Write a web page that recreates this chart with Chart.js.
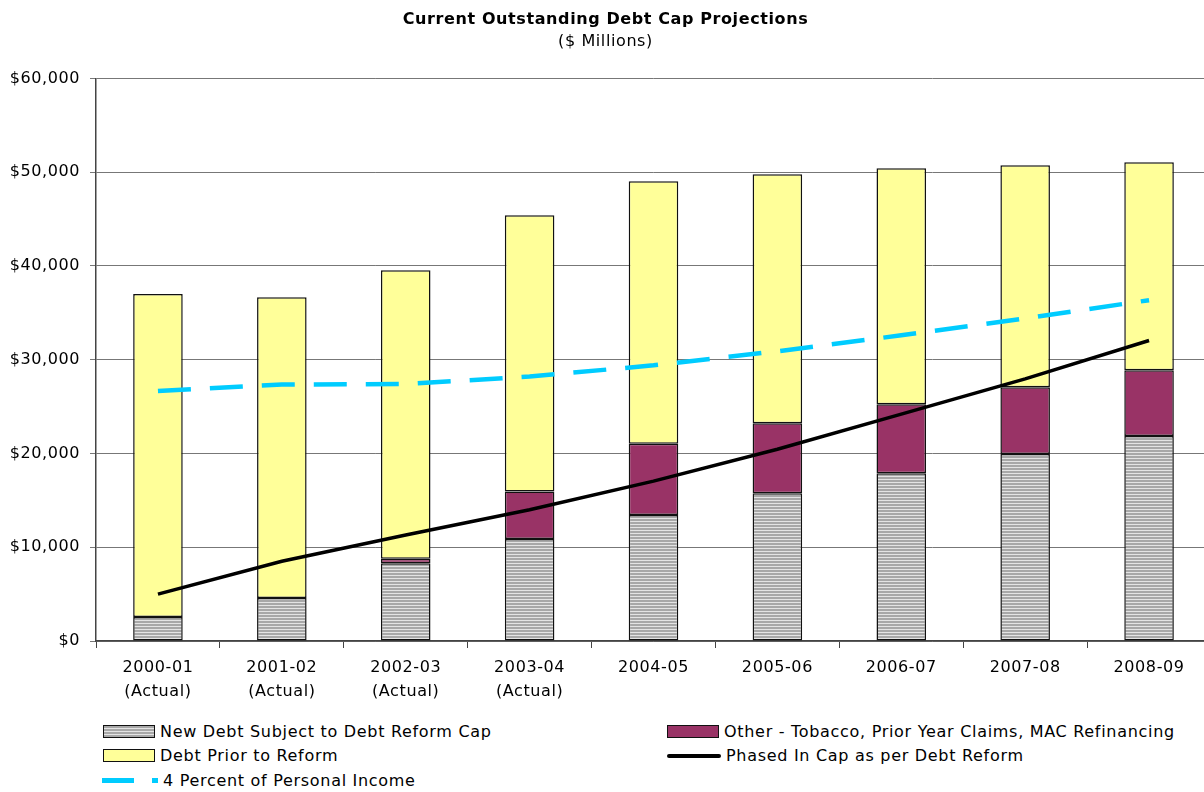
<!DOCTYPE html>
<html>
<head>
<meta charset="utf-8">
<script src="https://cdn.jsdelivr.net/npm/chart.js@4/dist/chart.umd.min.js"></script>
<style>
	body { margin: 0; background: #fff; font-family: "DejaVu Sans", sans-serif; overflow: hidden; }
	#wrap { position: relative; width: 1204px; height: 792px; overflow: hidden; }
	#chart { position: absolute; left: 0; top: 0; }
	.lg { position: absolute; font-size: 16px; letter-spacing: 0.7px; color: #000; white-space: nowrap; line-height: 18px; }
	.lg i { display: inline-block; vertical-align: middle; margin-right: 5px; box-sizing: border-box; position: relative; top: -1px; }
	.box { width: 52px; height: 13px; border: 1.5px solid #111; }
	.gray { background: repeating-linear-gradient(to bottom, #a8a8a8 0 2px, #e4e4e4 2px 3px); }
	.yellow { background: #ffff99; }
	.purple { background: #993366; }
	.solid { width: 54px; height: 4px; background: #000; border-radius: 2px; }
	.dash { width: 56px; height: 4.5px; background: linear-gradient(to right, #00ccff 0 32px, transparent 32px 50px, #00ccff 50px 56px); }
</style>
</head>
<body>
<div id="wrap">
	<canvas id="chart" width="1212" height="720"></canvas>
	<div class="lg" style="left:103px; top:723px;"><i class="box gray"></i>New Debt Subject to Debt Reform Cap</div>
	<div class="lg" style="left:667px; top:723px;"><i class="box purple"></i>Other - Tobacco, Prior Year Claims, MAC Refinancing</div>
	<div class="lg" style="left:103px; top:747px;"><i class="box yellow"></i>Debt Prior to Reform</div>
	<div class="lg" style="left:667px; top:747px;"><i class="solid"></i>Phased In Cap as per Debt Reform</div>
	<div class="lg" style="left:102px; top:772px;"><i class="dash"></i>4 Percent of Personal Income</div>
</div>
<script>
var years = [["2000-01", "(Actual)"], ["2001-02", "(Actual)"], ["2002-03", "(Actual)"], ["2003-04", "(Actual)"],
	"2004-05", "2005-06", "2006-07", "2007-08", "2008-09"];

// $ millions
var newDebt    = [2550, 4580, 8300, 10870, 13430, 15770, 17900, 19930, 21850];
var otherDebt  = [0, 0, 470, 5080, 7600, 7460, 7350, 7140, 7030];
var priorDebt  = [34450, 32070, 30780, 29450, 28000, 26540, 25160, 23660, 22170];
var phasedCap  = [5000, 8500, 11300, 14000, 17050, 20450, 24200, 27950, 32050];
var pctIncome  = [26650, 27350, 27400, 28200, 29400, 30900, 32600, 34400, 36350];

var yTicks = [0, 10000, 20000, 30000, 40000, 50000, 60000];

function stripePattern() {
	var c = document.createElement("canvas");
	c.width = 4;
	c.height = 3;
	var g = c.getContext("2d");
	g.fillStyle = "#e4e4e4";
	g.fillRect(0, 0, 4, 3);
	g.fillStyle = "#a8a8a8";
	g.fillRect(0, 0, 4, 2);
	return g.createPattern(c, "repeat");
}

// slightly wider text, set again whenever the canvas state may have been reset
var spacingPlugin = {
	id: "spacing",
	beforeLayout: function(chart) { chart.ctx.letterSpacing = "0.6px"; },
	beforeDraw: function(chart) { chart.ctx.letterSpacing = "0.6px"; }
};

var font = "'DejaVu Sans', sans-serif";

function barSet(label, data, color) {
	return {
		label: label, data: data, backgroundColor: color,
		borderColor: "#111", borderWidth: 1.5, borderSkipped: false,
		stack: "bars", order: 1, categoryPercentage: 1, barPercentage: 0.4
	};
}

var config = {
	type: "bar",
	data: {
		labels: years,
		datasets: [
			barSet("New Debt Subject to Debt Reform Cap", newDebt, stripePattern()),
			barSet("Other - Tobacco, Prior Year Claims, MAC Refinancing", otherDebt, "#993366"),
			barSet("Debt Prior to Reform", priorDebt, "#ffff99"),
			{ type: "line", label: "Phased In Cap as per Debt Reform", data: phasedCap, borderColor: "#000",
				borderWidth: 3.5, pointRadius: 0, fill: false, tension: 0, stack: "cap", order: 0 },
			{ type: "line", label: "4 Percent of Personal Income", data: pctIncome, borderColor: "#00ccff",
				borderWidth: 4.5, borderDash: [33, 19], borderCapStyle: "butt", pointRadius: 0, fill: false, tension: 0, stack: "income", order: 0 }
		]
	},
	options: {
		responsive: false,
		animation: false,
		layout: { padding: { top: 0, right: 1, bottom: 0, left: 0 } },
		plugins: {
			legend: { display: false },
			tooltip: { enabled: false },
			title: {
				display: true,
				text: "Current Outstanding Debt Cap Projections",
				color: "#000",
				font: { family: font, size: 16, weight: "bold" },
				padding: { top: 10, bottom: 3 }
			},
			subtitle: {
				display: true,
				text: "($ Millions)",
				color: "#000",
				font: { family: font, size: 16 },
				padding: { top: 0, bottom: 27 }
			}
		},
		scales: {
			x: {
				stacked: true,
				offset: true,
				grid: { display: true, drawOnChartArea: false, drawTicks: true, tickLength: 7, offset: true, color: "#444", lineWidth: 1 },
				border: { color: "#444", width: 1.5 },
				ticks: { color: "#000", font: { family: font, size: 16, lineHeight: 1.55 }, maxRotation: 0, padding: 7 },
				afterFit: function(scale) { scale.height = 79; }
			},
			y: {
				stacked: true,
				min: 0,
				max: 60000,
				afterBuildTicks: function(scale) {
					scale.ticks = yTicks.map(function(v) { return { value: v }; });
				},
				grid: { color: "#777", lineWidth: 1, tickLength: 6 },
				border: { color: "#444", width: 1.5 },
				ticks: {
					color: "#000",
					font: { family: font, size: 16 },
					padding: 10,
					callback: function(v) { return "$" + v.toLocaleString("en-US"); }
				},
				afterFit: function(scale) { scale.width = 96; }
			}
		}
	},
	plugins: [spacingPlugin]
};

new Chart(document.getElementById("chart"), config);
</script>
</body>
</html>
